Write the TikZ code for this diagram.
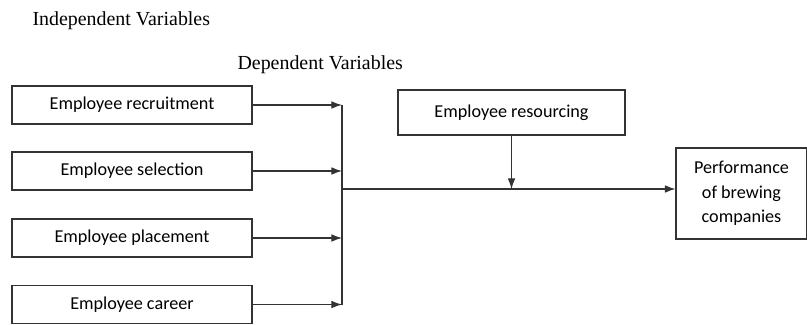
\documentclass[tikz,border=0pt]{standalone}
\usepackage{fontspec}
\setmainfont{Liberation Serif}
\newfontfamily\boxfont{Carlito}
\usetikzlibrary{arrows.meta}
\tikzstyle{framework}=[x=0.03cm, y=-0.03cm, line width=0.9pt, draw=black!80]
\tikzstyle{var}=[rectangle, draw=black!80, line width=0.9pt, inner sep=0pt, minimum width=7.2cm, minimum height=1.14cm, font=\boxfont\fontsize{15.5}{21}\selectfont]
\tikzstyle{mod}=[var, minimum width=6.81cm, minimum height=1.35cm]
\tikzstyle{result}=[var, minimum width=3.93cm, minimum height=2.73cm, align=center]
\tikzstyle{heading}=[anchor=west, inner sep=0pt, font=\fontsize{17}{20}\selectfont]
\tikzstyle{edge}=[-{Latex[length=9pt,width=6.5pt]}, line width=0.9pt]
\tikzstyle{wedge}=[-, line width=0.9pt]
\begin{document}
\begin{tikzpicture}[framework]
	\useasboundingbox (0,0) rectangle (807,324);
	%The headings
	\draw (32,21) node[heading] (indep) {Independent Variables};
	\draw (237,65) node[heading] (dep) {Dependent Variables};
	
	%The independent variables
	\draw (132,105) node[var] (v1) {Employee recruitment};
	\draw (132,171) node[var] (v2) {Employee selection};
	\draw (132,238) node[var] (v3) {Employee placement};
	\draw (132,304.5) node[var] (v4) {Employee career};
	
	%The moderator and the outcome
	\draw (511.5,112.5) node[mod] (res) {Employee resourcing};
	\draw (741.5,193.5) node[result] (perf) {Performance\\of brewing\\companies};
	
	%The joining points
	\coordinate (j1) at (342,105);
	\coordinate (j2) at (342,171);
	\coordinate (j3) at (342,238);
	\coordinate (j4) at (342,304.5);
	\coordinate (m) at (342,189);
	
	\draw[edge] (v1) -- (j1);
	\draw[edge] (v2) -- (j2);
	\draw[edge] (v3) -- (j3);
	\draw[edge] (v4) -- (j4);
	\draw[wedge] (j1) -- (j4);
	
	\draw[edge] (m) -- (m -| perf.west);
	\draw[edge] (res) -- (res |- m);
\end{tikzpicture}
\end{document}
